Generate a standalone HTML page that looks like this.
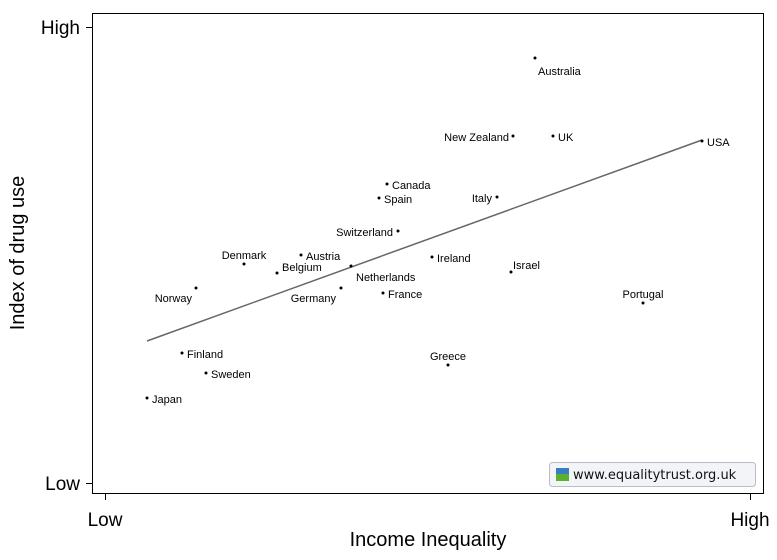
<!DOCTYPE html>
<html><head><meta charset="utf-8"><style>
body{margin:0;background:#fff;}
svg{display:block;font-family:"Liberation Sans",sans-serif;}
</style></head><body>
<svg width="777" height="560" viewBox="0 0 777 560">
<rect x="92.5" y="13.5" width="671" height="480" fill="#fff" stroke="#000" stroke-width="1"/>
<g stroke="#000">
<line x1="86" y1="27.5" x2="92" y2="27.5"/>
<line x1="86" y1="483.5" x2="92" y2="483.5"/>
<line x1="105.5" y1="494" x2="105.5" y2="500"/>
<line x1="750.5" y1="494" x2="750.5" y2="500"/>
</g>
<g font-size="19" fill="#000">
<text x="80" y="34" text-anchor="end">High</text>
<text x="80" y="490" text-anchor="end">Low</text>
<text x="105" y="526" text-anchor="middle">Low</text>
<text x="750" y="526" text-anchor="middle">High</text>
</g>
<g font-size="20" fill="#000">
<text x="428" y="546" text-anchor="middle">Income Inequality</text>
<text transform="translate(24,253) rotate(-90)" text-anchor="middle">Index of drug use</text>
</g>
<line x1="147" y1="341" x2="702" y2="140" stroke="#666" stroke-width="1.5"/>
<g fill="#000">
<circle cx="535" cy="58" r="1.5"/><circle cx="513" cy="136" r="1.5"/><circle cx="553" cy="136" r="1.5"/>
<circle cx="702" cy="141" r="1.5"/><circle cx="387" cy="184" r="1.5"/><circle cx="379" cy="198" r="1.5"/>
<circle cx="497" cy="197" r="1.5"/><circle cx="398" cy="231" r="1.5"/><circle cx="432" cy="257" r="1.5"/>
<circle cx="244" cy="264" r="1.5"/><circle cx="301" cy="255" r="1.5"/><circle cx="277" cy="273" r="1.5"/>
<circle cx="351" cy="266" r="1.5"/><circle cx="511" cy="272" r="1.5"/><circle cx="196" cy="288" r="1.5"/>
<circle cx="341" cy="288" r="1.5"/><circle cx="383" cy="293" r="1.5"/><circle cx="643" cy="303" r="1.5"/>
<circle cx="182" cy="353" r="1.5"/><circle cx="206" cy="373" r="1.5"/><circle cx="448" cy="365" r="1.5"/>
<circle cx="147" cy="398" r="1.5"/>
</g>
<g font-size="11" fill="#000">
<text x="538" y="75">Australia</text>
<text x="509" y="141" text-anchor="end">New Zealand</text>
<text x="558" y="141">UK</text>
<text x="707" y="146">USA</text>
<text x="392" y="189">Canada</text>
<text x="384" y="203">Spain</text>
<text x="492" y="202" text-anchor="end">Italy</text>
<text x="393" y="236" text-anchor="end">Switzerland</text>
<text x="437" y="262">Ireland</text>
<text x="244" y="259" text-anchor="middle">Denmark</text>
<text x="306" y="260">Austria</text>
<text x="282" y="271">Belgium</text>
<text x="356" y="281">Netherlands</text>
<text x="513" y="269">Israel</text>
<text x="192" y="302" text-anchor="end">Norway</text>
<text x="336" y="302" text-anchor="end">Germany</text>
<text x="388" y="298">France</text>
<text x="643" y="298" text-anchor="middle">Portugal</text>
<text x="187" y="358">Finland</text>
<text x="211" y="378">Sweden</text>
<text x="448" y="360" text-anchor="middle">Greece</text>
<text x="152" y="403">Japan</text>
</g>
<rect x="549.5" y="462.5" width="206" height="24" rx="3" fill="#f2f4f8" stroke="#b8bcc4"/>
<rect x="556" y="468" width="13" height="6" fill="#3a7cc4"/>
<rect x="556" y="474" width="13" height="7" fill="#5cb030"/>
<text x="573" y="479" font-size="13" font-family="DejaVu Sans,sans-serif" fill="#111">www.equalitytrust.org.uk</text>
</svg>
</body></html>
